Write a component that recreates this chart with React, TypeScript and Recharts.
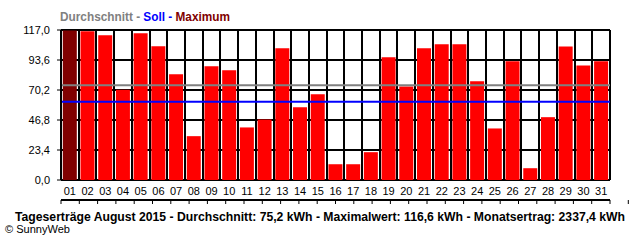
import React from 'react';
import { BarChart, Bar, Cell, XAxis, YAxis, CartesianGrid, ReferenceLine } from 'recharts';

// Tageserträge August 2015 (kWh)
const DAYS = [
  '01', '02', '03', '04', '05', '06', '07', '08', '09', '10', '11', '12', '13', '14', '15', '16',
  '17', '18', '19', '20', '21', '22', '23', '24', '25', '26', '27', '28', '29', '30', '31',
];
const YIELDS = [
  116.6, 116.1, 113.0, 70.4, 114.5, 104.4, 82.5, 34.2, 88.8, 85.7, 41.0, 47.2, 102.8, 56.7, 66.8, 12.3,
  12.3, 21.7, 95.8, 72.9, 102.8, 105.9, 105.9, 77.1, 40.2, 92.7, 9.2, 49.0, 104.1, 89.3, 92.7,
];
const Y_TICKS = [0, 23.4, 46.8, 70.2, 93.6, 117];
const AVERAGE_LINE = 73.9;
const TARGET_LINE = 61.0; // Soll

const FONT = '"Liberation Sans", Arial, sans-serif';

const fmt = (v: number) => v.toFixed(1).replace('.', ',');

const App: React.FC = () => {
  const data = DAYS.map((day, i) => ({ day, value: YIELDS[i] }));
  const max = Math.max(...YIELDS);
  // column boundaries for grid lines and ticks
  const bounds = Array.from({ length: DAYS.length + 1 }, (_, i) => i);

  return (
    <div style={{ position: 'absolute', left: 0, top: 0, width: 640, height: 240, background: '#fff' }}>
      <BarChart
        width={640}
        height={240}
        data={data}
        margin={{ top: 30, right: 30, bottom: 35, left: 0 }}
        barCategoryGap={1.8}
      >
        <CartesianGrid
          xAxisId="g"
          stroke="#000"
          strokeWidth={2}
          verticalCoordinatesGenerator={({ offset }: any) =>
            bounds.map((i) => Math.round(offset.left + (i * offset.width) / DAYS.length))
          }
        />
        <XAxis
          xAxisId="g"
          type="number"
          domain={[0, DAYS.length]}
          ticks={bounds}
          interval={0}
          tick={<g />}
          tickSize={4}
          height={5}
          axisLine={{ stroke: '#000', strokeWidth: 2 }}
          tickLine={{ stroke: '#000', strokeWidth: 1 }}
        />
        <XAxis
          xAxisId="c"
          dataKey="day"
          axisLine={false}
          tickLine={false}
          tickSize={0}
          tickMargin={7}
          height={20}
          interval={0}
          tick={{ fill: '#000', fontSize: 11, fontFamily: FONT }}
        />
        <YAxis
          width={61}
          domain={[0, 117]}
          ticks={Y_TICKS}
          tickFormatter={fmt}
          tickSize={4}
          tickMargin={7}
          axisLine={{ stroke: '#000', strokeWidth: 2 }}
          tickLine={{ stroke: '#000', strokeWidth: 1 }}
          tick={{ fill: '#000', fontSize: 11, fontFamily: FONT }}
        />
        <Bar xAxisId="c" dataKey="value" isAnimationActive={false}>
          {data.map((entry, index) => (
            <Cell key={`cell-${index}`} fill={entry.value === max ? '#800000' : '#FF0000'} />
          ))}
        </Bar>
        <ReferenceLine xAxisId="c" y={AVERAGE_LINE} stroke="#808080" strokeWidth={2} />
        <ReferenceLine xAxisId="c" y={TARGET_LINE} stroke="#0000FF" strokeWidth={2} />
      </BarChart>
      <svg width={640} height={240} style={{ position: 'absolute', left: 0, top: 0, pointerEvents: 'none' }}>
        <text x={60} y={21} fontFamily={FONT} fontSize={12} fontWeight="bold" textLength={170} lengthAdjust="spacingAndGlyphs">
          <tspan fill="#808080">Durchschnitt - </tspan>
          <tspan fill="#0000FF">Soll - </tspan>
          <tspan fill="#800000">Maximum</tspan>
        </text>
        <text x={15} y={221} fontFamily={FONT} fontSize={12} fontWeight="bold" fill="#000" textLength={610} lengthAdjust="spacingAndGlyphs">
          Tageserträge August 2015 - Durchschnitt: 75,2 kWh - Maximalwert: 116,6 kWh - Monatsertrag: 2337,4 kWh
        </text>
        <text x={5} y={233} fontFamily={FONT} fontSize={10} fill="#000" textLength={65} lengthAdjust="spacingAndGlyphs">
          © SunnyWeb
        </text>
      </svg>
    </div>
  );
};

export default App;
